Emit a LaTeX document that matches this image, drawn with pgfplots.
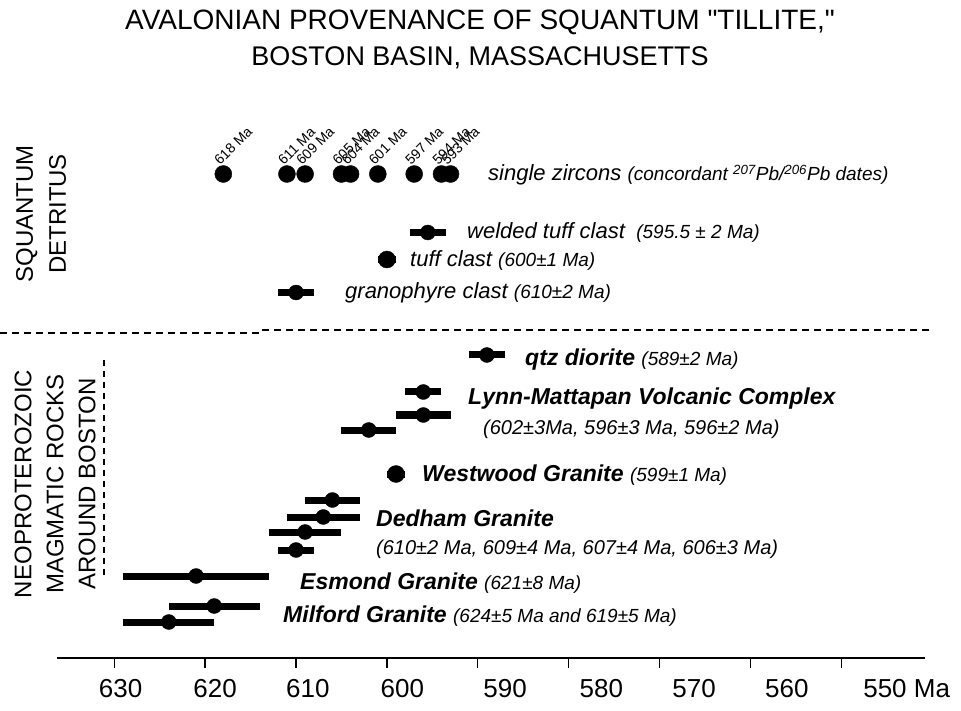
\documentclass[border=0pt]{standalone}
\usepackage{fontspec}
\setmainfont{Liberation Sans}
\newfontfamily\titlefont{Liberation Sans}[Ligatures=TeXOff]
\usepackage{pgfplots}
\pgfplotsset{compat=1.18}
\newcommand\fs[1]{\fontsize{#1}{#1}\selectfont}

\pgfplotstableread{
x y lab
618 536 {618 Ma}
611 536 {611 Ma}
609 536 {609 Ma}
605 536 {605 Ma}
604 536 {604 Ma}
601 536 {601 Ma}
597 536 {597 Ma}
594 536 {594 Ma}
593 536 {593 Ma}
}\zircons

\pgfplotstableread{
x y e
595.5 477.5 2
610 417.5 2
589 355 2
596 318 2
596 295 3
602 280 3
606 210 3
607 193 4
609 178 4
610 160 2
621 134 8
619 104 5
624 88 5
}\dated

\pgfplotstableread{
x y e
600 450.5 1
599 236 1
}\single

\begin{document}
\begin{tikzpicture}[x=1pt,y=1pt]
\useasboundingbox (0,0) rectangle (961,710);
\node[font=\titlefont\fs{28}] at (480,688) {AVALONIAN PROVENANCE OF SQUANTUM "TILLITE,"};
\node[font=\titlefont\fs{27}] at (480,652) {BOSTON BASIN, MASSACHUSETTS};

\begin{axis}[at={(57pt,52pt)}, anchor=south west, scale only axis,
  width=868pt, height=558pt,
  x dir=reverse, xmin=540.8, xmax=636.3, ymin=52, ymax=610,
  axis x line=bottom, axis y line=none,
  x axis line style={line width=1.6pt, -},
  xtick={550,560,...,630}, xticklabels={},
  tick align=outside, major tick length=10pt,
  xtick style={line width=1.3pt, black},
  extra x ticks={629.3,618.9,608.7,598.3,587.0,576.4,566.2,556.0,545.2},
  extra x tick labels={630,620,610,600,590,580,570,560,550\rlap{~Ma}},
  extra x tick style={major tick length=0pt, tick label style={font=\fs{26}, yshift=-18pt}},
  clip=false]
\addplot[only marks, mark=*, mark size=8.5pt, black,
  nodes near coords, point meta=explicit symbolic,
  every node near coord/.append style={font=\fs{14}, xshift=-3pt, yshift=8pt, rotate=45, anchor=south west, inner sep=0pt}]
  table[x=x, y=y, meta=lab] {\zircons};
\addplot[only marks, mark=*, mark size=7.5pt, black,
  error bars/.cd, x dir=both, x explicit, error mark=none,
  error bar style={line width=7pt, black}]
  table[x=x, y=y, x error=e] {\dated};
\addplot[only marks, mark=*, mark size=8.5pt, black,
  error bars/.cd, x dir=both, x explicit, error mark=none,
  error bar style={line width=7pt, black}]
  table[x=x, y=y, x error=e] {\single};
\end{axis}

% separators
\draw[line width=1.3pt, dash pattern=on 7pt off 5pt] (0,377) -- (262,377);
\draw[line width=1.3pt, dash pattern=on 7pt off 5pt] (262,380) -- (930,380);
\draw[line width=1.3pt, dash pattern=on 6pt off 5pt] (104,350) -- (104,133);

% left group labels
\node[rotate=90, align=center, font=\fontsize{24}{33}\selectfont] at (41,496) {SQUANTUM\\DETRITUS};
\node[rotate=90, align=center, font=\fontsize{24}{32}\selectfont] at (55,226) {NEOPROTEROZOIC\\MAGMATIC ROCKS\\AROUND BOSTON};

% series labels
\begin{scope}[every node/.style={anchor=base west, inner sep=0pt}]
\node at (488,529) {\itshape\fs{22}single zircons \fs{19}(concordant \textsuperscript{207}Pb/\textsuperscript{206}Pb dates)};
\node at (467,471) {\itshape\fs{22}welded tuff clast \fs{19} (595.5 ± 2 Ma)};
\node at (410,443) {\itshape\fs{22}tuff clast \fs{19}(600±1 Ma)};
\node at (345,411) {\itshape\fs{22}granophyre clast \fs{19}(610±2 Ma)};
\node at (525,344) {\bfseries\itshape\fs{23}qtz diorite \mdseries\fs{19}(589±2 Ma)};
\node at (468,305) {\bfseries\itshape\fs{23}Lynn-Mattapan Volcanic Complex};
\node at (483,275) {\itshape\fs{20}(602±3Ma, 596±3 Ma, 596±2 Ma)};
\node at (422,228) {\bfseries\itshape\fs{23}Westwood Granite \mdseries\fs{19}(599±1 Ma)};
\node at (376,183) {\bfseries\itshape\fs{23}Dedham Granite};
\node at (376,156) {\itshape\fs{20}(610±2 Ma, 609±4 Ma, 607±4 Ma, 606±3 Ma)};
\node at (300,121) {\bfseries\itshape\fs{23}Esmond Granite \mdseries\fs{19}(621±8 Ma)};
\node at (283,88) {\bfseries\itshape\fs{23}Milford Granite \mdseries\fs{19}(624±5 Ma and 619±5 Ma)};
\end{scope}
\end{tikzpicture}
\end{document}
